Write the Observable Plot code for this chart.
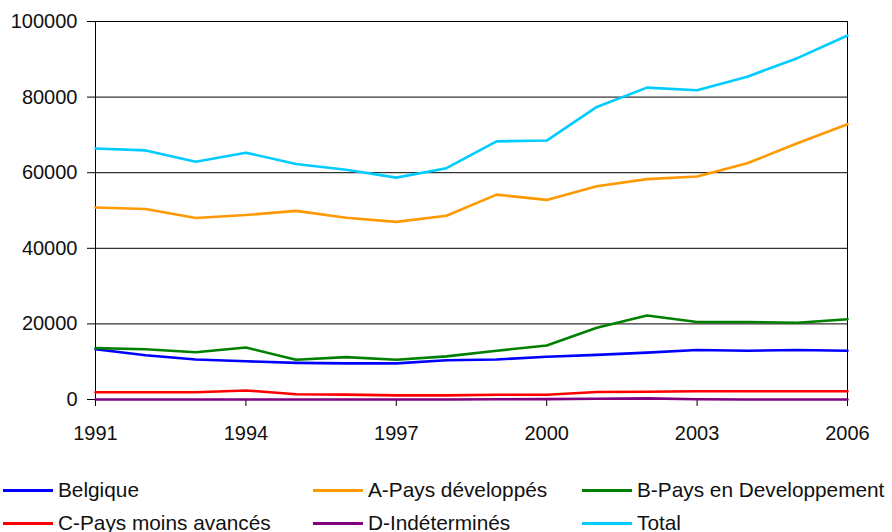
<!DOCTYPE html>
<html>
<head>
<meta charset="utf-8">
<script src="https://cdn.jsdelivr.net/npm/d3@7"></script>
<script src="https://cdn.jsdelivr.net/npm/@observablehq/plot@0.6"></script>
<style>
  body { margin: 0; background: #fff; font-family: "Liberation Sans", Arial, Helvetica, sans-serif; }
  #wrap { position: relative; width: 892px; height: 532px; overflow: hidden; }
  .lg { position: absolute; font-size: 20.8px; color: #111; display: flex; align-items: center; white-space: nowrap; line-height: 1; }
  .sw { display: inline-block; width: 50px; height: 3px; margin-right: 5px; }
</style>
</head>
<body>
<div id="wrap"></div>
<script>
const years = [1991,1992,1993,1994,1995,1996,1997,1998,1999,2000,2001,2002,2003,2004,2005,2006];
const seriesNames = ["Belgique","A-Pays développés","B-Pays en Developpement","C-Pays moins avancés","D-Indéterminés","Total"];
const seriesColors = ["#0000FF","#FF9900","#008000","#FF0000","#800080","#00CCFF"];
const belgique = [13300,11700,10600,10100,9700,9550,9550,10400,10600,11300,11800,12400,13100,12900,13100,12900];
const paysDeveloppes = [50800,50400,48000,48800,49900,48100,47000,48600,54200,52800,56400,58300,59000,62500,67800,72800];
const paysEnDev = [13600,13300,12500,13750,10500,11200,10500,11400,12900,14300,19000,22200,20500,20500,20300,21250];
const moinsAvances = [1900,1900,1900,2400,1400,1300,1100,1100,1250,1250,2000,2050,2200,2200,2200,2200];
const indetermines = [0,0,0,0,0,0,0,0,50,100,200,300,50,0,0,0];
const total = [66400,65900,62900,65300,62300,60800,58700,61200,68300,68500,77400,82500,81800,85400,90300,96300];
const xTicks = [1991,1994,1997,2000,2003,2006];
const yTicks = [0,20000,40000,60000,80000,100000];

const seriesValues = [belgique, paysDeveloppes, paysEnDev, moinsAvances, indetermines, total];
const rows = [];
seriesNames.forEach((name, i) => {
  years.forEach((y, j) => rows.push({series: name, year: y, value: seriesValues[i][j]}));
});

const chart = Plot.plot({
  width: 892,
  height: 460,
  marginLeft: 95,
  marginRight: 45,
  marginTop: 21,
  marginBottom: 61,
  style: {fontSize: "20px", fontFamily: "'Liberation Sans', Arial, Helvetica, sans-serif", color: "#111", background: "#fff"},
  x: {domain: [1991, 2006]},
  y: {domain: [0, 100000]},
  color: {domain: seriesNames, range: seriesColors},
  marks: [
    Plot.ruleY(yTicks, {stroke: "black", strokeWidth: 1}),
    Plot.frame({stroke: "black", strokeWidth: 1}),
    Plot.axisX({ticks: xTicks, tickSize: 7, tickPadding: 19, tickFormat: d => String(d), stroke: "black", strokeOpacity: 1, label: null, fill: "#111"}),
    Plot.axisY({ticks: yTicks, tickSize: 8, tickPadding: 10, tickFormat: d => String(d), stroke: "black", strokeOpacity: 1, label: null, fill: "#111"}),
    Plot.line(rows, {x: "year", y: "value", z: "series", stroke: "series", strokeWidth: 2.6, strokeLinejoin: "round"})
  ]
});
const wrap = document.getElementById("wrap");
chart.style.position = "absolute";
chart.style.left = "0px";
chart.style.top = "0px";
wrap.appendChild(chart);

// legend (HTML, below the SVG)
const legendPos = [[3,490],[313,490],[582,490],[3,523],[313,523],[582,523]];
seriesNames.forEach((name, i) => {
  const d = document.createElement("div");
  d.className = "lg";
  d.style.left = legendPos[i][0] + "px";
  d.style.top = (legendPos[i][1] - 11) + "px";
  d.style.height = "22px";
  const s = document.createElement("span");
  s.className = "sw";
  s.style.background = seriesColors[i];
  d.appendChild(s);
  const t = document.createElement("span");
  t.textContent = name;
  d.appendChild(t);
  wrap.appendChild(d);
});
</script>
</body>
</html>
